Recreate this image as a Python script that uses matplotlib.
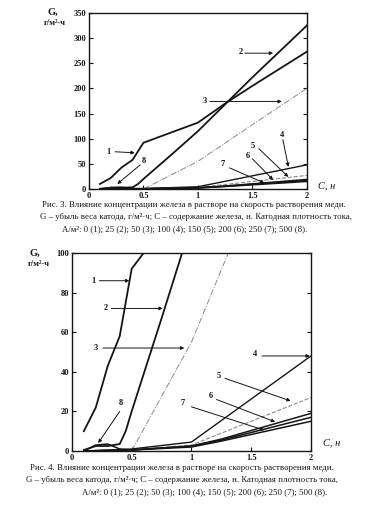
import matplotlib
matplotlib.use("Agg")
import matplotlib.pyplot as plt

# ---- data (G, g/m2*h vs C, n) ----
c1_x = [0.1, 0.2, 0.3, 0.4, 0.5, 1.0, 1.25, 1.5, 2.0]
c1_y = [10, 22, 43, 58, 92, 132, 170, 205, 273]
c2_x = [0.1, 0.2, 0.3, 0.4, 0.45, 0.5, 0.75, 1.0, 1.5, 2.0]
c2_y = [0.5, 2.5, 2.5, 3.5, 10, 20, 67, 115, 222, 325]
c3_x = [0.5, 1.0, 1.5, 2.0]
c3_y = [0, 55, 128, 200]
c4_x = [0.1, 0.5, 1.0, 2.0]
c4_y = [0, 1, 4.5, 48]
c5_x = [0.1, 0.5, 1.0, 2.0]
c5_y = [0, 0.5, 3, 27]
c6_x = [0.1, 0.5, 1.0, 1.25, 2.0]
c6_y = [0, 0.5, 2.5, 6, 19]
c7_x = [0.1, 0.5, 1.0, 1.25, 2.0]
c7_y = [0, 0.5, 2.5, 5.5, 17]
c8_x = [0.1, 0.2, 0.3, 0.4, 0.5, 1.0, 1.25, 2.0]
c8_y = [0, 3, 3.5, 1, 0.5, 2, 5, 15]

x_ticks = [0, 0.5, 1, 1.5, 2]
x_tick_labels = ["0", "0.5", "1", "1.5", "2"]
y1_ticks = [0, 50, 100, 150, 200, 250, 300, 350]
y2_ticks = [0, 20, 40, 60, 80, 100]

caption_line1_a = "Рис. 3. Влияние концентрации железа в растворе на скорость растворения меди."
caption_line1_b = "Рис. 4. Влияние концентрации железа в растворе на скорость растворения меди."
caption_line2 = "G – убыль веса катода, г/м²·ч; C – содержание железа, н. Катодная плотность тока,"
caption_line3 = "А/м²: 0 (1); 25 (2); 50 (3); 100 (4); 150 (5); 200 (6); 250 (7); 500 (8)."

plt.rcParams['font.family'] = ['Liberation Serif', 'DejaVu Serif']

INK = "#151515"
GRAY = "#8a8a8a"

series = [
    (c1_x, c1_y, dict(color=INK, lw=1.3, ls='-')),
    (c2_x, c2_y, dict(color=INK, lw=1.3, ls='-')),
    (c3_x, c3_y, dict(color=GRAY, lw=0.7, ls='-.')),
    (c4_x, c4_y, dict(color=INK, lw=1.0, ls='-')),
    (c5_x, c5_y, dict(color=GRAY, lw=0.8, ls='--')),
    (c6_x, c6_y, dict(color=INK, lw=1.1, ls='-')),
    (c7_x, c7_y, dict(color=INK, lw=1.1, ls='-')),
    (c8_x, c8_y, dict(color=INK, lw=1.1, ls='-')),
]

fig = plt.figure(figsize=(3.65, 5.21), dpi=100)
fig.patch.set_facecolor('white')

ax1 = fig.add_axes([0.2438, 0.6372, 0.597, 0.338])
ax2 = fig.add_axes([0.197, 0.1344, 0.655, 0.380])


def style(ax, yticks, ymax):
    for x, y, kw in series:
        ax.plot(x, y, **kw)
    ax.set_xlim(0, 2)
    ax.set_ylim(0, ymax)
    ax.set_xticks(x_ticks)
    ax.set_xticklabels(x_tick_labels)
    ax.set_yticks(yticks)
    ax.tick_params(direction='in', length=3, width=0.8, labelsize=6,
                   right=True, top=False, pad=2, colors=INK)
    for lab in ax.get_xticklabels() + ax.get_yticklabels():
        lab.set_fontweight('bold')
    for s in ax.spines.values():
        s.set_linewidth(1.0)
        s.set_color(INK)


style(ax1, y1_ticks, 350)
style(ax2, y2_ticks, 100)

arrow = dict(arrowstyle='-|>', color=INK, lw=0.7, mutation_scale=5,
             shrinkA=0, shrinkB=0)

ann1 = [
    ("1", (0.18, 74), (0.24, 74), (0.42, 72)),
    ("8", (0.50, 55), (0.47, 48), (0.26, 10)),
    ("2", (1.39, 272), (1.43, 270), (1.69, 270)),
    ("3", (1.06, 174), (1.11, 174), (1.77, 174)),
    ("4", (1.77, 108), (1.78, 98), (1.83, 44)),
    ("5", (1.50, 86), (1.56, 80), (1.83, 24)),
    ("6", (1.46, 66), (1.50, 60), (1.69, 18)),
    ("7", (1.23, 50), (1.29, 42), (1.61, 12)),
]
ann2 = [
    ("1", (0.18, 86), (0.23, 86), (0.48, 86)),
    ("2", (0.28, 72), (0.33, 72), (0.76, 72)),
    ("3", (0.20, 52), (0.26, 52), (0.94, 52)),
    ("4", (1.53, 49), (1.59, 48), (1.99, 48)),
    ("5", (1.23, 38), (1.28, 36.7), (1.83, 25.3)),
    ("6", (1.16, 28), (1.21, 26), (1.70, 14.7)),
    ("7", (0.93, 24), (1.00, 22.3), (1.61, 10.5)),
    ("8", (0.41, 24), (0.40, 20), (0.22, 4)),
]
for ax, anns in ((ax1, ann1), (ax2, ann2)):
    for lab, tpos, a0, a1 in anns:
        ax.text(tpos[0], tpos[1], lab, fontsize=6, fontweight='bold',
                ha='center', va='center', color=INK)
        ax.annotate("", xy=a1, xytext=a0, arrowprops=arrow)

# axis labels
fig.text(47 / 365, 1 - 12 / 521, "G,", fontsize=7.5, fontweight='bold', ha='left', va='center', color=INK)
fig.text(44 / 365, 1 - 23 / 521, "г/м²·ч", fontsize=6, fontweight='bold', ha='left', va='center', color=INK)
fig.text(318 / 365, 1 - 186 / 521, "C, н", fontsize=7.5, ha='left', va='center', color=INK, style='italic')

fig.text(30 / 365, 1 - 253 / 521, "G,", fontsize=7.5, fontweight='bold', ha='left', va='center', color=INK)
fig.text(28 / 365, 1 - 264 / 521, "г/м²·ч", fontsize=6, fontweight='bold', ha='left', va='center', color=INK)
fig.text(323 / 365, 1 - 443 / 521, "C, н", fontsize=7.5, ha='left', va='center', color=INK, style='italic')

# captions
cap_kw = dict(fontsize=6.3, ha='left', va='center', color=INK)
fig.text(42 / 365, 1 - 205 / 521, caption_line1_a, **cap_kw)
fig.text(40 / 365, 1 - 217 / 521, caption_line2, **cap_kw)
fig.text(62 / 365, 1 - 229 / 521, caption_line3, **cap_kw)

fig.text(30 / 365, 1 - 468 / 521, caption_line1_b, **cap_kw)
fig.text(26 / 365, 1 - 480 / 521, caption_line2, **cap_kw)
fig.text(82 / 365, 1 - 492 / 521, caption_line3, **cap_kw)

fig.savefig("out.png", dpi=100, facecolor='white')
